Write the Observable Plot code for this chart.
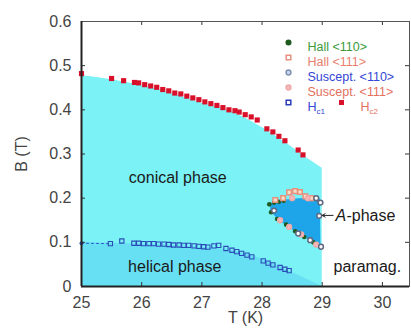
<!DOCTYPE html>
<html>
<head>
<meta charset="utf-8">
<script src="https://cdn.jsdelivr.net/npm/d3@7"></script>
<script src="https://cdn.jsdelivr.net/npm/@observablehq/plot@0.6"></script>
<style>
  html, body { margin: 0; padding: 0; background: #fff; }
</style>
</head>
<body>
<div id="chart"></div>
<script>
// ---- data ----
const xTicks = [25, 26, 27, 28, 29, 30];
const yTicks = [0, 0.1, 0.2, 0.3, 0.4, 0.5, 0.6];

// conical phase upper boundary (T, B)
const conicalT = [25, 25.5, 26, 26.5, 27, 27.5, 28, 28.4, 28.7, 29];
const conicalB = [0.478, 0.468, 0.455, 0.437, 0.415, 0.395, 0.36, 0.325, 0.295, 0.268];

// helical phase upper boundary
const helicalT = [25, 25.5, 26, 26.5, 27, 27.5, 28, 28.4, 29];
const helicalB = [0.1, 0.098, 0.096, 0.093, 0.089, 0.081, 0.062, 0.038, 0];

// A-phase pocket outline
const aPhaseT = [28.13, 28.3, 28.6, 28.96, 28.97, 28.6, 28.3, 28.14];
const aPhaseB = [0.188, 0.196, 0.2, 0.2, 0.09, 0.12, 0.148, 0.17];

// Hc2 (red filled squares)
const hc2T = [25.0, 25.5, 25.7, 25.88, 25.95, 26.05, 26.15, 26.25, 26.35, 26.45, 26.55, 26.65, 26.75, 26.85, 26.95, 27.05, 27.15, 27.25, 27.35, 27.45, 27.55, 27.62, 27.72, 27.82, 27.92, 28.08, 28.18, 28.28, 28.38, 28.6, 28.68];
const hc2B = [0.482, 0.471, 0.466, 0.462, 0.461, 0.457, 0.454, 0.451, 0.446, 0.443, 0.438, 0.436, 0.431, 0.427, 0.423, 0.418, 0.414, 0.410, 0.405, 0.400, 0.398, 0.395, 0.389, 0.384, 0.377, 0.357, 0.350, 0.340, 0.330, 0.309, 0.298];

// Hc1 (blue open squares)
const hc1T = [25.48, 25.67, 25.87, 25.95, 26.03, 26.12, 26.2, 26.28, 26.37, 26.45, 26.53, 26.62, 26.7, 26.78, 26.87, 26.95, 27.03, 27.1, 27.2, 27.28, 27.4, 27.5, 27.58, 27.66, 27.75, 27.83, 28.02, 28.1, 28.18, 28.3, 28.38, 28.45];
const hc1B = [0.097, 0.103, 0.098, 0.098, 0.097, 0.097, 0.097, 0.096, 0.096, 0.095, 0.094, 0.094, 0.093, 0.093, 0.092, 0.091, 0.090, 0.089, 0.092, 0.093, 0.086, 0.082, 0.079, 0.075, 0.071, 0.067, 0.058, 0.053, 0.049, 0.043, 0.039, 0.036];

// A-phase boundary measurements
const hall110T = [28.12, 28.2, 28.28, 28.36, 28.15, 28.25, 28.4, 28.55, 28.7, 28.85];
const hall110B = [0.186, 0.19, 0.192, 0.194, 0.168, 0.153, 0.14, 0.125, 0.112, 0.1];
const hall111T = [28.22, 28.35, 28.45, 28.55, 28.63, 28.72, 28.82];
const hall111B = [0.196, 0.2, 0.213, 0.216, 0.214, 0.204, 0.2];
const sus110T = [28.9, 28.97, 28.95, 28.98, 28.2, 28.6, 28.8];
const sus110B = [0.2, 0.19, 0.16, 0.09, 0.172, 0.12, 0.105];
const sus111T = [28.3, 28.45, 28.65, 28.9, 28.5, 28.76];
const sus111B = [0.15, 0.135, 0.118, 0.095, 0.2, 0.2];

const legendLabels = ["Hall <110>", "Hall <111>", "Suscept. <110>", "Suscept. <111>"];
const legendColors = ["#3a9a3a", "#e8806e", "#3346d6", "#e4705e"];

const annotations = [
  {T: 26.6, B: 0.245, text: "conical phase"},
  {T: 26.55, B: 0.045, text: "helical phase"},
  {T: 29.75, B: 0.045, text: "paramag."}
];

// ---- tables ----
const zip = (T, B) => T.map((t, i) => ({T: t, B: B[i]}));
const conical = zip(conicalT, conicalB);
const helical = zip(helicalT, helicalB);
const aPhase = zip(aPhaseT, aPhaseB);
const hc2 = zip(hc2T, hc2B);
const hc1 = zip(hc1T, hc1B);
const hall110 = zip(hall110T, hall110B);
const hall111 = zip(hall111T, hall111B);
const sus110 = zip(sus110T, sus110B);
const sus111 = zip(sus111T, sus111B);

const xMax = 30.45;
const markers = [
  {symbol: "circle", fill: "#1f5a1f", stroke: "#1f5a1f", r: 2.3},
  {symbol: "square", fill: "none", stroke: "#e8907e", r: 2.6},
  {symbol: "circle", fill: "#c8d8f0", stroke: "#8090b0", r: 2.4},
  {symbol: "circle", fill: "#f4b8b8", stroke: "#f0a8a8", r: 2.4}
];

const legendMarks = [];
legendLabels.forEach((lab, i) => {
  legendMarks.push(Plot.dot([lab], {frameAnchor: "top-left", dx: 207, dy: 21 + 15 * i, symbol: markers[i].symbol, fill: markers[i].fill, stroke: markers[i].stroke, r: markers[i].r}));
  legendMarks.push(Plot.text([lab], {frameAnchor: "top-left", dx: 226, dy: 21 + 15 * i, text: d => d, textAnchor: "start", fill: legendColors[i], fontSize: 12.5}));
});
const hRowDy = 21 + 15 * 4;
legendMarks.push(Plot.dot(["Hc1"], {frameAnchor: "top-left", dx: 207, dy: hRowDy, symbol: "square", fill: "none", stroke: "#2a3cb8", r: 2.6}));
legendMarks.push(Plot.text(["H"], {frameAnchor: "top-left", dx: 226, dy: hRowDy, text: d => d, textAnchor: "start", fill: "#3346d6", fontSize: 12.5}));
legendMarks.push(Plot.text(["c1"], {frameAnchor: "top-left", dx: 235, dy: hRowDy + 6, text: d => d, textAnchor: "start", fill: "#3346d6", fontSize: 8}));
legendMarks.push(Plot.dot(["Hc2"], {frameAnchor: "top-left", dx: 260, dy: hRowDy, symbol: "square", fill: "#d8102a", r: 2.8}));
legendMarks.push(Plot.text(["H"], {frameAnchor: "top-left", dx: 279, dy: hRowDy, text: d => d, textAnchor: "start", fill: "#e4705e", fontSize: 12.5}));
legendMarks.push(Plot.text(["c2"], {frameAnchor: "top-left", dx: 288, dy: hRowDy + 6, text: d => d, textAnchor: "start", fill: "#e4705e", fontSize: 8}));

const chart = Plot.plot({
  width: 411,
  height: 336,
  marginLeft: 81,
  marginRight: 2,
  marginTop: 21,
  marginBottom: 50,
  x: {domain: [25, xMax]},
  y: {domain: [0, 0.6]},
  style: {fontFamily: "'Liberation Sans', Arial, sans-serif", fontSize: "16px", background: "#fff"},
  marks: [
    Plot.areaY(conical, {x: "T", y: "B", fill: "#7af2f6", curve: "monotone-x"}),
    Plot.areaY(helical, {x: "T", y: "B", fill: "#68e0f4", curve: "monotone-x"}),
    Plot.line(aPhase, {x: "T", y: "B", fill: "#1ea4e8", stroke: "none"}),
    Plot.line([{T: 25, B: 0.098}, hc1[0]], {x: "T", y: "B", stroke: "#2a5cc8", strokeDasharray: "2,3", strokeWidth: 1}),
    Plot.dot([{T: 25, B: 0.098}], {x: "T", y: "B", fill: "#2a5cc8", r: 2}),
    Plot.dot(hc1, {x: "T", y: "B", symbol: "square", stroke: "#2a4cb8", fill: "none", r: 2.4, strokeWidth: 1.1}),
    Plot.dot(hc2, {x: "T", y: "B", symbol: "square", fill: "#d8102a", r: 2.9}),
    Plot.dot(hall110, {x: "T", y: "B", symbol: "circle", fill: "#1f5a1f", r: 2.3}),
    Plot.dot(hall111, {x: "T", y: "B", symbol: "square", fill: "#f6e0c8", stroke: "#e8907e", r: 2.6}),
    Plot.dot(sus111, {x: "T", y: "B", symbol: "circle", fill: "#f4b8b8", stroke: "#f0a8a8", r: 2.4}),
    Plot.dot(sus110, {x: "T", y: "B", symbol: "circle", fill: "#ffffff", stroke: "#606880", r: 2.4}),
    // inward ticks
    Plot.ruleX(xTicks, {x: d => d, y1: 0, y2: 0.009, stroke: "#333"}),
    Plot.ruleX(xTicks, {x: d => d, y1: 0.6, y2: 0.591, stroke: "#333"}),
    Plot.ruleY(yTicks, {y: d => d, x1: 25, x2: 25.066, stroke: "#333"}),
    Plot.ruleY(yTicks, {y: d => d, x1: xMax, x2: xMax - 0.066, stroke: "#333"}),
    Plot.frame({stroke: "#555", strokeWidth: 1}),
    Plot.ruleX([25], {stroke: "#222", strokeWidth: 2}),
    Plot.ruleY([0], {stroke: "#222", strokeWidth: 2}),
    Plot.axisX({ticks: xTicks, tickSize: 0, tickPadding: 10, fill: "#444", fontSize: 16, tickFormat: d => String(d), label: "T (K)", labelArrow: "none", labelAnchor: "center", labelOffset: 36}),
    Plot.axisY({ticks: yTicks, tickSize: 0, tickPadding: 10, fill: "#444", fontSize: 16, tickFormat: d => d === 0 ? "0" : d.toFixed(1), label: "B (T)", labelArrow: "none", labelAnchor: "center", labelOffset: 66}),
    Plot.text(annotations, {x: "T", y: "B", text: "text", fill: "#1a1a1a", fontSize: 16}),
    Plot.arrow([{x1: 29.18, x2: 29.0, y: 0.161}], {x1: "x1", x2: "x2", y1: "y", y2: "y", stroke: "#222", strokeWidth: 1, headLength: 5}),
    Plot.text([{T: 29.22, B: 0.161}], {x: "T", y: "B", text: () => "-phase", textAnchor: "start", dx: 11, fill: "#1a1a1a", fontSize: 16}),
    Plot.text([{T: 29.22, B: 0.161}], {x: "T", y: "B", text: () => "A", textAnchor: "start", fill: "#1a1a1a", fontSize: 16, fontStyle: "italic"}),
    ...legendMarks
  ]
});
document.getElementById("chart").appendChild(chart);
</script>
</body>
</html>
